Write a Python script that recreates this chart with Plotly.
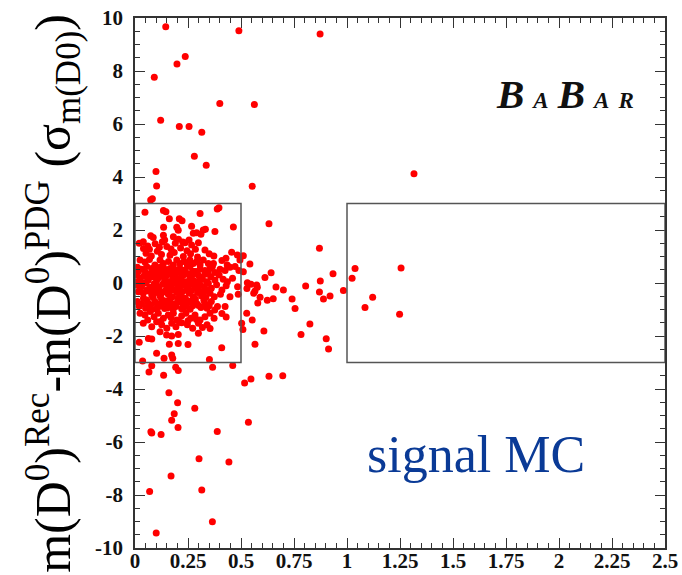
import plotly.graph_objects as go

# ---------------- data ----------------
# dense core, y between about -3 and +3
core_x = [0.047,0.134,0.146,0.307,0.388,0.396,0.162,0.209,0.222,0.267,0.464,0.135,0.197,0.204,0.322,0.332,0.291,0.275,0.377,0.074,0.086,0.134,0.181,
          0.039,0.129,0.236,0.267,0.299,0.311,0.020,0.060,0.095,0.115,0.150,0.170,0.190,0.215,0.245,0.255,0.285,0.330,0.350,0.372,0.456,0.483,0.040,0.068,0.105,0.140,0.205,0.225,0.052,0.077,
          0.024,0.047,0.068,0.094,0.118,0.134,0.158,0.181,0.197,0.212,0.231,0.247,0.259,0.275,0.291,0.307,0.322,0.346,0.370,0.429,0.435,0.495,0.011,0.031,0.055,0.079,0.102,0.118,0.141,0.165,0.189,0.212,0.236,0.259,0.283,0.307,0.330,0.354,0.377,0.401,0.425,0.448,0.472,0.490,0.165,0.228,0.262,0.295,0.185,0.125,0.410,0.365,
          0.005,0.024,0.043,0.063,0.083,0.102,0.121,0.141,0.161,0.180,0.200,0.219,0.239,0.259,0.279,0.298,0.318,0.338,0.357,0.377,0.397,0.416,0.436,0.484,0.012,0.050,0.090,0.130,0.170,0.210,0.250,0.290,0.330,0.015,0.035,0.072,0.112,0.150,0.190,0.228,0.268,0.308,0.345,0.460,0.115,0.155,0.195,0.235,0.272,0.058,0.098,0.138,0.178,0.218,0.258,0.298,
          0.008,0.031,0.052,0.071,0.091,0.112,0.130,0.150,0.171,0.190,0.209,0.228,0.250,0.269,0.291,0.307,0.327,0.346,0.360,0.385,0.410,0.016,0.039,0.057,0.079,0.099,0.118,0.137,0.157,0.177,0.197,0.216,0.236,0.256,0.275,0.295,0.314,0.334,0.354,0.374,0.403,0.448,0.487,0.023,0.063,0.105,0.145,0.185,0.225,0.265,0.305,0.345,0.430,0.084,0.124,0.164,0.204,0.244,0.284,0.324,
          0.011,0.031,0.055,0.074,0.094,0.115,0.134,0.154,0.173,0.193,0.212,0.231,0.252,0.272,0.291,0.311,0.330,0.350,0.376,0.389,0.425,0.040,0.085,0.125,0.165,0.205,0.245,0.285,0.325,0.050,0.100,0.140,0.180,0.220,0.260,0.020,0.062,0.105,0.145,0.185,0.225,0.265,0.300,0.340,0.360,0.080,0.240,0.120,0.200,0.160,
          0.024,0.047,0.071,0.090,0.110,0.134,0.157,0.181,0.197,0.220,0.240,0.263,0.283,0.307,0.330,0.354,0.373,0.503,0.060,0.120,0.170,0.210,0.250,0.290,0.410,0.430,
          0.039,0.079,0.102,0.126,0.150,0.173,0.193,0.220,0.247,0.272,0.299,0.318,0.340,0.354,0.118,0.020,0.063,0.079,0.149,0.173,0.204,0.299,0.162,0.204,0.250,0.409,0.102,0.137,0.173,0.178,0.036,0.351]
core_y = [2.67,2.74,2.69,2.62,2.79,2.84,2.42,2.42,2.35,2.14,2.11,2.10,2.10,1.99,2.00,2.03,1.90,1.88,1.94,1.78,1.72,1.80,1.75,
          1.56,1.56,1.52,1.43,1.52,1.84,1.50,1.40,1.48,1.35,1.38,1.28,1.50,1.32,1.22,1.62,1.27,1.25,1.10,1.02,1.16,1.06,1.30,1.27,1.20,1.62,1.65,1.55,1.12,1.02,
          0.87,0.79,0.89,0.68,0.87,0.74,0.81,0.68,0.87,0.74,0.81,0.68,0.87,0.74,0.81,0.68,0.87,0.74,0.74,0.93,0.68,0.87,0.59,0.52,0.62,0.55,0.49,0.59,0.52,0.55,0.49,0.55,0.49,0.62,0.43,0.52,0.47,0.55,0.40,0.52,0.47,0.59,0.62,0.47,1.05,1.00,1.10,0.98,1.15,1.08,0.85,0.62,
          0.30,0.18,0.27,0.11,0.24,0.09,0.30,0.14,0.05,0.24,0.11,0.22,0.05,0.19,0.08,0.30,0.14,0.05,0.24,0.11,0.30,0.14,0.05,-0.14,0.05,0.40,0.38,0.42,0.36,0.40,0.35,0.42,0.33,0.42,0.02,0.35,0.20,0.28,0.33,0.30,0.27,0.22,0.38,0.18,0.45,0.43,0.18,0.42,0.44,0.20,0.28,0.02,0.12,0.04,0.03,0.06,
          -0.07,-0.14,0.00,-0.16,-0.03,-0.20,-0.05,-0.11,-0.14,-0.01,-0.20,-0.07,-0.16,-0.03,-0.22,-0.07,-0.14,-0.01,-0.20,-0.07,-0.26,-0.33,-0.39,-0.26,-0.45,-0.36,-0.49,-0.33,-0.42,-0.52,-0.36,-0.45,-0.58,-0.39,-0.52,-0.36,-0.49,-0.55,-0.39,-0.52,-0.42,-0.52,-0.42,-0.22,-0.30,-0.12,-0.28,-0.25,-0.32,-0.28,-0.30,-0.26,-0.10,-0.24,-0.40,-0.30,-0.10,-0.26,-0.12,-0.36,
          -0.70,-0.79,-0.64,-0.83,-0.70,-0.89,-0.74,-0.93,-0.77,-0.89,-0.70,-0.92,-0.74,-0.86,-0.77,-0.92,-0.77,-0.86,-1.02,-0.89,-0.89,-0.58,-0.55,-0.60,-0.62,-0.58,-0.66,-0.60,-0.65,-0.95,-0.98,-0.96,-1.00,-0.97,-0.99,-0.88,-0.75,-0.80,-0.68,-0.82,-0.80,-0.68,-0.85,-0.95,-0.70,-1.00,-0.85,-0.78,-0.72,-0.84,
          -1.14,-1.21,-1.08,-1.27,-1.14,-1.33,-1.21,-1.14,-1.40,-1.24,-1.14,-1.33,-1.21,-1.40,-1.27,-1.14,-1.33,-1.52,-1.40,-1.45,-1.30,-1.48,-1.42,-1.38,-1.15,-1.28,
          -1.52,-1.65,-1.46,-1.58,-1.71,-1.52,-1.65,-1.50,-1.58,-1.71,-1.52,-1.68,-1.58,-1.72,-1.84,-2.24,-2.09,-2.11,-1.96,-2.00,-1.94,-1.90,-2.31,-2.28,-2.32,-2.44,-2.65,-2.84,-2.72,-2.84,-2.94,-2.89]

# points to the right of the first box
tail_x = [0.632,0.870,0.511,0.542,0.511,0.642,0.613,0.934,1.038,1.024,1.255,0.874,0.530,0.574,0.547,0.528,0.577,0.566,0.665,0.700,0.805,0.870,0.983,0.920,0.889,1.121,1.085,1.248,0.590,0.560,0.624,0.652,0.579,0.741,0.755,0.527,0.553,0.509,0.608,0.825,0.783,0.902,0.913,0.566]
tail_y = [2.24,1.31,1.03,0.72,0.42,0.39,0.21,0.35,0.55,0.18,0.57,0.08,0.01,-0.08,-0.05,-0.21,-0.16,-0.30,-0.15,-0.26,-0.11,-0.34,-0.28,-0.49,-0.60,-0.54,-0.92,-1.18,-0.54,-0.39,-0.65,-0.59,-0.75,-0.60,-0.96,-1.14,-1.40,-1.75,-1.81,-1.55,-1.94,-2.10,-2.49,-2.31]

# outliers above +3
high_x = [0.145,0.490,0.873,0.237,0.198,0.091,0.400,0.563,0.121,0.209,0.255,0.315,0.280,0.336,0.099,0.102,0.553,0.074,0.082,1.316]
high_y = [9.67,9.52,9.40,8.55,8.26,7.76,6.77,6.74,6.14,5.91,5.91,5.69,4.78,4.44,4.21,3.66,3.65,3.13,3.18,4.12]

# outliers below -3
low_x = [0.079,0.066,0.135,0.192,0.204,0.366,0.461,0.517,0.547,0.632,0.697,0.160,0.201,0.282,0.185,0.173,0.203,0.535,0.075,0.079,0.123,0.388,0.302,0.443,0.170,0.315,0.069,0.365,0.100]
low_y = [-3.12,-3.36,-3.48,-3.18,-3.30,-3.18,-3.11,-3.77,-3.62,-3.52,-3.50,-4.14,-4.52,-4.73,-4.93,-5.18,-5.45,-5.25,-5.61,-5.66,-5.72,-5.60,-6.63,-6.75,-7.28,-7.81,-7.87,-9.01,-9.43]

# selection boxes (x0, x1, y0, y1)
box_x0 = [0.0, 1.0]
box_x1 = [0.5, 2.5]
box_y0 = [-3.0, -3.0]
box_y1 = [3.0, 3.0]

x_tickvals = [0, 0.25, 0.5, 0.75, 1, 1.25, 1.5, 1.75, 2, 2.25, 2.5]
x_ticktext = ["0", "0.25", "0.5", "0.75", "1", "1.25", "1.5", "1.75", "2", "2.25", "2.5"]
y_tickvals = [10, 8, 6, 4, 2, 0, -2, -4, -6, -8, -10]
y_ticktext = ["10", "8", "6", "4", "2", "0", "-2", "-4", "-6", "-8", "-10"]

# ---------------- figure ----------------
all_x = core_x + tail_x + high_x + low_x
all_y = core_y + tail_y + high_y + low_y

fig = go.Figure()
fig.add_trace(go.Scatter(
    x=all_x, y=all_y, mode="markers",
    marker=dict(size=7, color="#ff0000", line=dict(width=0)),
    showlegend=False, hoverinfo="skip"))

for a, b, c, d in zip(box_x0, box_x1, box_y0, box_y1):
    fig.add_shape(type="rect", xref="x", yref="y", x0=a, x1=b, y0=c, y1=d,
                  line=dict(color="#555555", width=1.5), fillcolor="rgba(0,0,0,0)")

serif = "Liberation Serif"
axis_common = dict(
    showline=True, linecolor="#333333", linewidth=1.5, mirror="allticks",
    ticks="inside", ticklen=10, tickwidth=1.2, tickcolor="#333333",
    showgrid=False, zeroline=False, automargin=False,
    tickfont=dict(family=serif, size=21, color="#111111"),
)

fig.update_xaxes(range=[0, 2.5], tickvals=x_tickvals,
                 ticktext=["<b>" + t + "</b>" for t in x_ticktext],
                 minor=dict(ticks="inside", ticklen=5, dtick=0.05, tickcolor="#333333", tickwidth=1, showgrid=False),
                 ticklabelstandoff=-7, **axis_common)
fig.update_yaxes(range=[-10, 10], tickvals=y_tickvals,
                 ticktext=["<b>" + t + "</b>" for t in y_ticktext],
                 minor=dict(ticks="inside", ticklen=5, dtick=0.5, tickcolor="#333333", tickwidth=1, showgrid=False),
                 ticklabelstandoff=6, **axis_common)

# y-axis title (large, rotated, partly cut at the top like the original)
fig.add_annotation(
    text="m(D<sup>0</sup>)<sup>Rec</sup>-m(D<sup>0</sup>)<sup>PDG</sup>\u00a0(σ<sub>m(D0)</sub>)",
    textangle=-90, xref="paper", yref="paper", x=-0.155, y=-0.05,
    xanchor="center", yanchor="bottom", showarrow=False,
    font=dict(family=serif, size=50, color="#000000"))

# BABAR logo
gap = "<span style='font-size:36px'> </span>"
fig.add_annotation(
    text=("<b><i><span style='font-size:41px'>B</span>" + gap + "A" + gap +
          "<span style='font-size:41px'>B</span>" + gap + "A" + gap + "R</i></b>"),
    xref="paper", yref="paper", x=0.678, y=0.857, xanchor="left", yanchor="middle",
    showarrow=False, font=dict(family=serif, size=23, color="#111111"))

# signal MC label
fig.add_annotation(
    text="signal MC", xref="paper", yref="paper", x=0.434, y=0.177,
    xanchor="left", yanchor="middle", showarrow=False,
    font=dict(family=serif, size=52, color="#0a3a96"))

fig.update_layout(
    width=682, height=575,
    margin=dict(l=135, r=17, t=18, b=27),
    plot_bgcolor="white", paper_bgcolor="white",
    font=dict(family=serif),
)

fig.write_html("out.html")
